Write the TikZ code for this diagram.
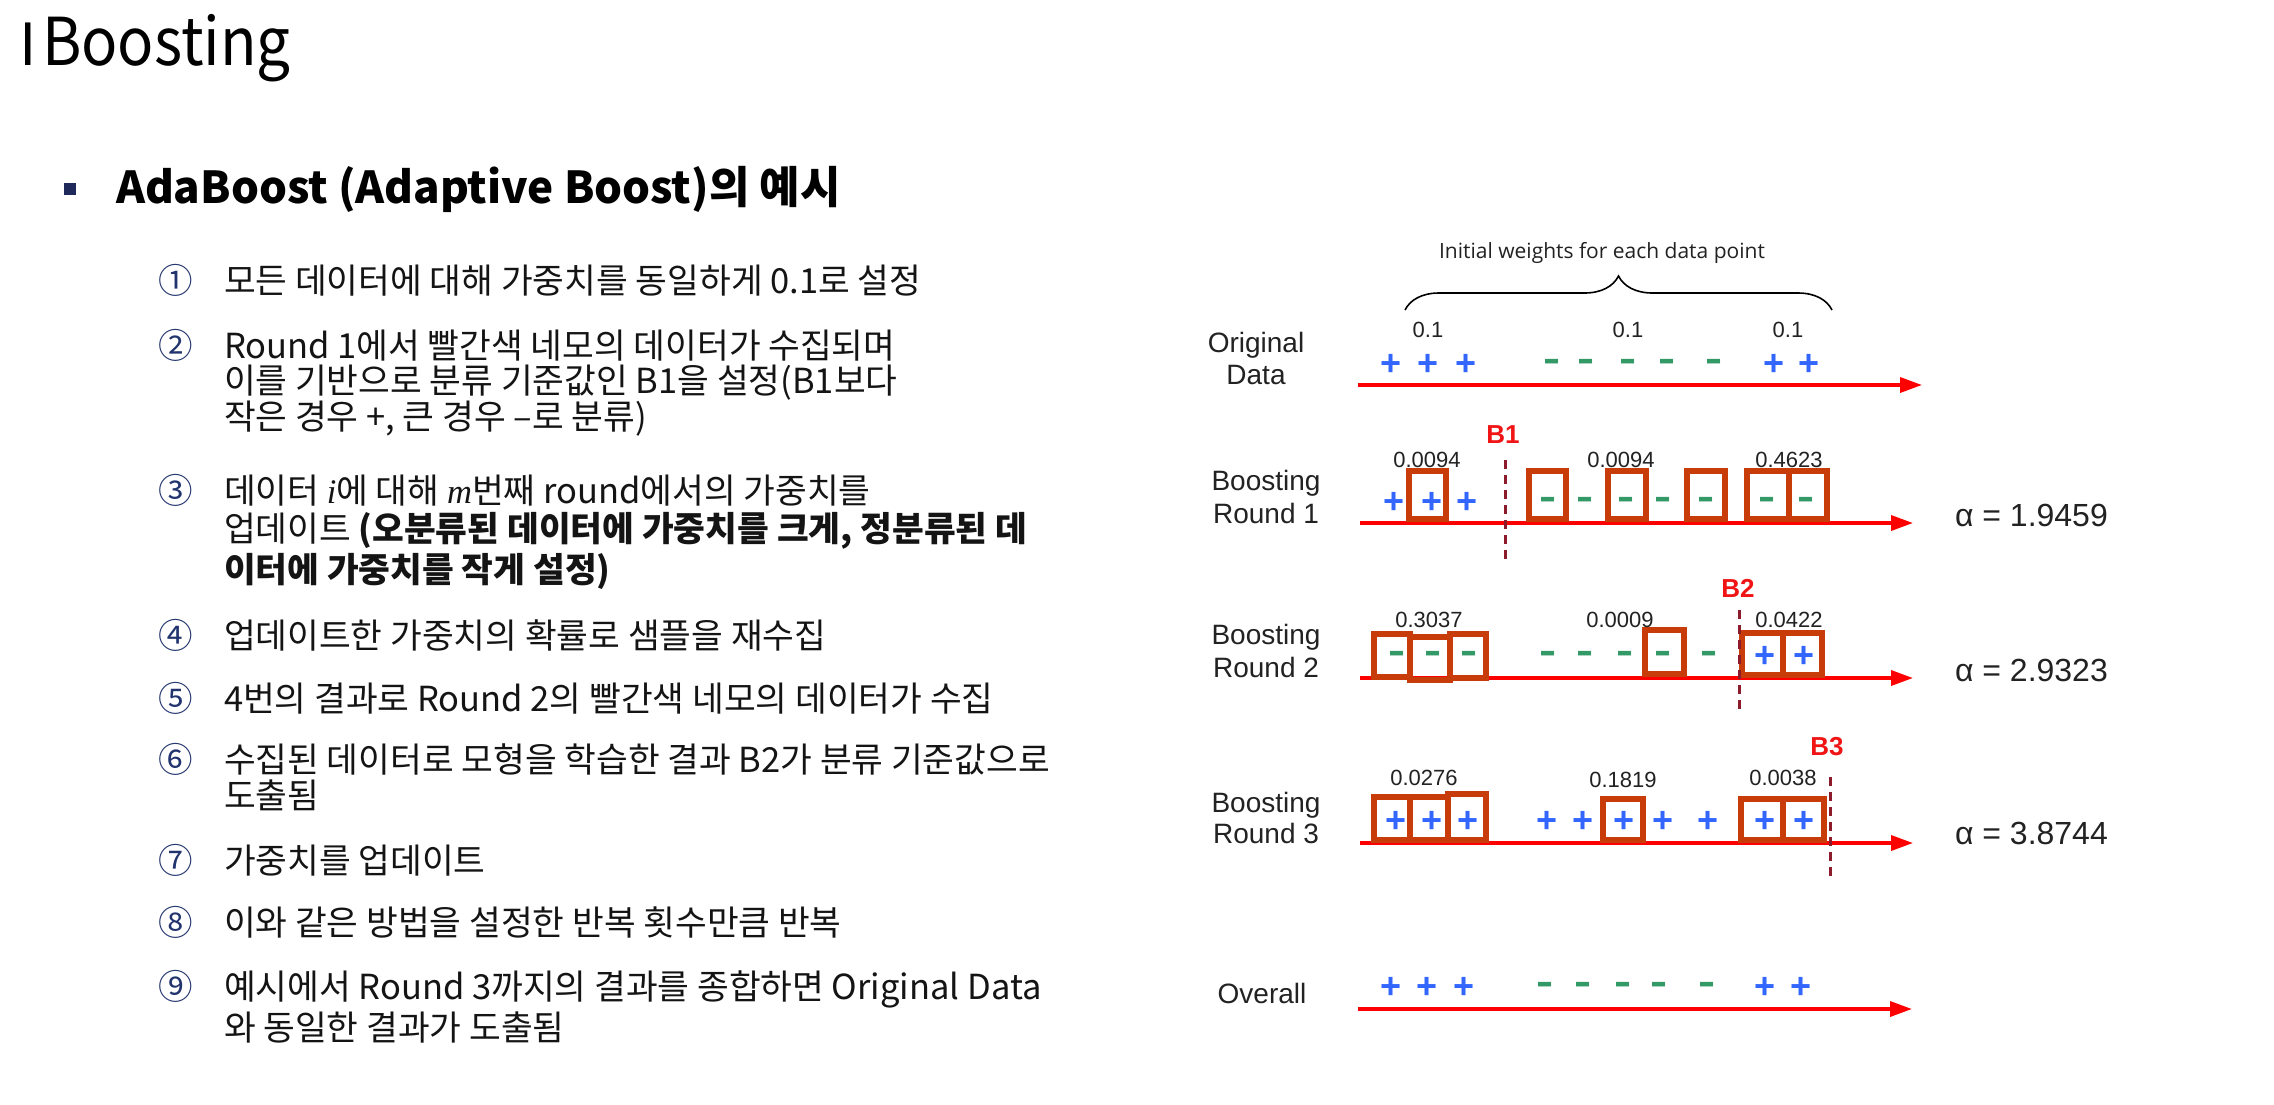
\documentclass[tikz,border=0pt]{standalone}
\usepackage{fontspec}
\usetikzlibrary{arrows.meta,decorations.pathreplacing}
\newfontfamily\kr{Noto Sans CJK KR}
\newfontfamily\ar{Liberation Sans}
\newfontfamily\os{Open Sans}
\newfontfamily\mi{Liberation Serif}
\newcommand\mvar[1]{{\mi\itshape #1}}
\newcommand\dashmark{\raisebox{-4pt}{\scalebox{1.35}[1]{-}}}
\definecolor{navy}{HTML}{22346E}
\definecolor{bullet}{HTML}{1F2A5A}
\definecolor{lbl}{HTML}{222222}
\definecolor{bred}{HTML}{F01414}
\definecolor{pblue}{HTML}{3366FF}
\definecolor{ngreen}{HTML}{339966}
\definecolor{boxc}{HTML}{C83C0A}
\definecolor{cutc}{HTML}{8C1C2C}
\begin{document}
\begin{tikzpicture}[x=1pt,y=-1pt,
  every node/.style={inner sep=0pt, outer sep=0pt},
  krtext/.style={font=\kr\fontsize{34.5}{40}\selectfont, text=black!92, anchor=base west},
  circnum/.style={font=\kr\fontsize{34.5}{40}\selectfont, text=navy, anchor=base west},
  lbl/.style={font=\ar\fontsize{28}{30}\selectfont, text=lbl},
  wnum/.style={font=\ar\fontsize{22}{24}\selectfont, text=lbl},
  alab/.style={font=\ar\fontsize{32}{34}\selectfont, text=lbl, anchor=west},
  blab/.style={font=\ar\bfseries\fontsize{26}{28}\selectfont, text=bred},
  plusmark/.style={font=\ar\bfseries\fontsize{36}{38}\selectfont, text=pblue},
  minusmark/.style={font=\ar\bfseries\fontsize{38}{40}\selectfont, text=ngreen},
  wbox/.style={draw=boxc, line width=6pt},
  axis/.style={draw=red, line width=3.5pt, -{Triangle[length=22pt,width=15pt]}},
  cut/.style={draw=cutc, line width=3pt, dash pattern=on 9pt off 6pt},
]
\fill[white] (0,0) rectangle (2274,1104);
\useasboundingbox (0,0) rectangle (2274,1104);

% ---------- heading ----------
\node[font=\kr\fontsize{66}{70}\selectfont, anchor=base west] (bar) at (19,65) {\scalebox{0.9}[0.88]{I}};
\node[font=\kr\fontsize{66}{70}\selectfont, anchor=base west] (title) at (42,65) {\scalebox{0.91}[1]{Boosting}};
\fill[bullet] (64,183) rectangle (76,195);
\node[font=\kr\bfseries\fontsize{44}{48}\selectfont, anchor=base west] (sub) at (116,203)
  {AdaBoost (Adaptive Boost)의 예시};

% ---------- steps ----------
\node[circnum] (n1) at (158,293) {①};
\node[krtext] (l1) at (224,293) {모든 데이터에 대해 가중치를 동일하게 0.1로 설정};
\node[circnum] (n2) at (158,358) {②};
\node[krtext] (l2a) at (224,358) {Round 1에서 빨간색 네모의 데이터가 수집되며};
\node[krtext] (l2b) at (224,393) {이를 기반으로 분류 기준값인 B1을 설정(B1보다};
\node[krtext] (l2c) at (224,429) {작은 경우 +, 큰 경우 –로 분류)};
\node[circnum] (n3) at (158,503) {③};
\node[krtext] (l3a) at (224,503) {데이터 \mvar{i}에 대해 \mvar{m}번째 round에서의 가중치를};
\node[krtext] (l3b) at (224,541) {업데이트 \textbf{(오분류된 데이터에 가중치를 크게, 정분류된 데}};
\node[krtext] (l3c) at (224,582) {\textbf{이터에 가중치를 작게 설정)}};
\node[circnum] (n4) at (158,648) {④};
\node[krtext] (l4) at (224,648) {업데이트한 가중치의 확률로 샘플을 재수집};
\node[circnum] (n5) at (158,711) {⑤};
\node[krtext] (l5) at (224,711) {4번의 결과로 Round 2의 빨간색 네모의 데이터가 수집};
\node[circnum] (n6) at (158,772) {⑥};
\node[krtext] (l6a) at (224,772) {수집된 데이터로 모형을 학습한 결과 B2가 분류 기준값으로};
\node[krtext] (l6b) at (224,808) {도출됨};
\node[circnum] (n7) at (158,873) {⑦};
\node[krtext] (l7) at (224,873) {가중치를 업데이트};
\node[circnum] (n8) at (158,935) {⑧};
\node[krtext] (l8) at (224,935) {이와 같은 방법을 설정한 반복 횟수만큼 반복};
\node[circnum] (n9) at (158,999) {⑨};
\node[krtext] (l9a) at (224,999) {예시에서 Round 3까지의 결과를 종합하면 Original Data};
\node[krtext] (l9b) at (224,1040) {와 동일한 결과가 도출됨};

% ---------- original data ----------
\node[font=\os\fontsize{21}{23}\selectfont, text=lbl] (iw) at (1602,253) {Initial weights for each data point};
\draw[lbl, line width=1.6pt, decorate, decoration={brace, amplitude=34pt}] (1405,310) -- (1832,310);
\node[wnum] (w01) at (1428,330) {0.1};
\node[wnum] (w02) at (1628,330) {0.1};
\node[wnum] (w03) at (1788,330) {0.1};
\node[lbl] (orig) at (1256,345) {Original};
\node[lbl] (data) at (1256,375) {Data};
\coordinate (o-s) at (1358,385);
\coordinate (o-e) at (1922,385);
\draw[axis] (o-s) -- (o-e);
\foreach \x [count=\i] in {1391,1428,1466,1774,1809} \node[plusmark] (o-p\i) at (\x,365) {+};
\foreach \x [count=\i] in {1552,1586,1628,1667,1714} \node[minusmark] (o-m\i) at (\x,365) {\dashmark};

% ---------- round 1 ----------
\node[lbl] (r1a) at (1266,483) {Boosting};
\node[lbl] (r1b) at (1266,513) {Round 1};
\coordinate (r1-s) at (1360,523);
\coordinate (r1-e) at (1913,523);
\draw[axis] (r1-s) -- (r1-e);
\foreach \x [count=\i] in {1394,1432,1467} \node[plusmark] (r1-p\i) at (\x,503) {+};
\foreach \x [count=\i] in {1548,1585,1626,1663,1706,1767,1806} \node[minusmark] (r1-m\i) at (\x,503) {\dashmark};
\draw[wbox] (1409,471) rectangle (1446,519);
\draw[wbox] (1529,471) rectangle (1566,519);
\draw[wbox] (1608,471) rectangle (1646,519);
\draw[wbox] (1687,471) rectangle (1725,519);
\draw[wbox] (1747,471) rectangle (1789,519);
\draw[wbox] (1789,471) rectangle (1827,519);
\node[wnum] (r1w1) at (1427,460) {0.0094};
\node[wnum] (r1w2) at (1621,460) {0.0094};
\node[wnum] (r1w3) at (1789,460) {0.4623};
\node[blab] (b1) at (1503,435) {B1};
\coordinate (c1-t) at (1505,460);
\coordinate (c1-b) at (1505,563);
\draw[cut] (c1-t) -- (c1-b);
\node[alab] (a1) at (1955,515) {α = 1.9459};

% ---------- round 2 ----------
\node[lbl] (r2a) at (1266,637) {Boosting};
\node[lbl] (r2b) at (1266,667) {Round 2};
\coordinate (r2-s) at (1360,678);
\coordinate (r2-e) at (1913,678);
\draw[axis] (r2-s) -- (r2-e);
\foreach \x [count=\i] in {1397,1433,1469,1548,1585,1625,1663,1709} \node[minusmark] (r2-m\i) at (\x,657) {\dashmark};
\foreach \x [count=\i] in {1765,1804} \node[plusmark] (r2-p\i) at (\x,657) {+};
\draw[wbox] (1374,634) rectangle (1410,677);
\draw[wbox] (1410,637) rectangle (1450,680);
\draw[wbox] (1450,634) rectangle (1486,678);
\draw[wbox] (1645,630) rectangle (1684,674);
\draw[wbox] (1742,633) rectangle (1783,675);
\draw[wbox] (1783,633) rectangle (1822,675);
\node[wnum] (r2w1) at (1429,620) {0.3037};
\node[wnum] (r2w2) at (1620,620) {0.0009};
\node[wnum] (r2w3) at (1789,620) {0.0422};
\node[blab] (b2) at (1738,588) {B2};
\coordinate (c2-t) at (1739,610);
\coordinate (c2-b) at (1739,713);
\draw[cut] (c2-t) -- (c2-b);
\node[alab] (a2) at (1955,670) {α = 2.9323};

% ---------- round 3 ----------
\node[lbl] (r3a) at (1266,805) {Boosting};
\node[lbl] (r3b) at (1266,833) {Round 3};
\coordinate (r3-s) at (1360,843);
\coordinate (r3-e) at (1913,843);
\draw[axis] (r3-s) -- (r3-e);
\foreach \x [count=\i] in {1396,1432,1468,1547,1583,1624,1663,1708,1765,1804} \node[plusmark] (r3-p\i) at (\x,822) {+};
\draw[wbox] (1374,797) rectangle (1410,840);
\draw[wbox] (1410,797) rectangle (1448,840);
\draw[wbox] (1448,794) rectangle (1486,840);
\draw[wbox] (1603,799) rectangle (1643,840);
\draw[wbox] (1741,799) rectangle (1783,840);
\draw[wbox] (1783,799) rectangle (1824,840);
\node[wnum] (r3w1) at (1424,778) {0.0276};
\node[wnum] (r3w2) at (1623,780) {0.1819};
\node[wnum] (r3w3) at (1783,778) {0.0038};
\node[blab] (b3) at (1827,747) {B3};
\coordinate (c3-t) at (1830,777);
\coordinate (c3-b) at (1830,880);
\draw[cut] (c3-t) -- (c3-b);
\node[alab] (a3) at (1955,833) {α = 3.8744};

% ---------- overall ----------
\node[lbl] (ov) at (1262,993) {Overall};
\coordinate (ov-s) at (1358,1009);
\coordinate (ov-e) at (1912,1009);
\draw[axis] (ov-s) -- (ov-e);
\foreach \x [count=\i] in {1391,1427,1464,1765,1801} \node[plusmark] (ov-p\i) at (\x,988) {+};
\foreach \x [count=\i] in {1545,1583,1623,1659,1707} \node[minusmark] (ov-m\i) at (\x,988) {\dashmark};
\end{tikzpicture}
\end{document}
